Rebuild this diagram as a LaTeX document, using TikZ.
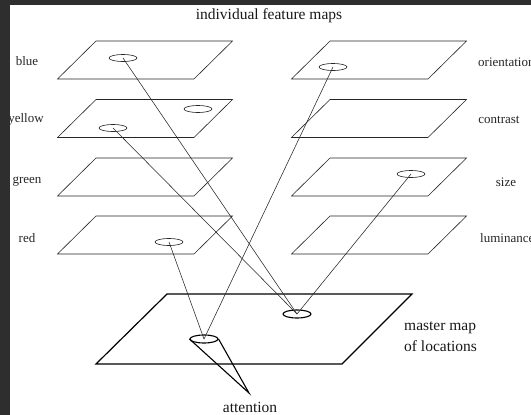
\documentclass[tikz,border=0pt]{standalone}
\usepackage{fontspec}
\setmainfont{Liberation Serif}
\usetikzlibrary{shapes.geometric}
\definecolor{strip}{HTML}{2E2E2E}
\tikzset{
  plane/.style={draw=black!85, line width=0.6pt},
  master/.style={draw=black, line width=1.2pt},
  spot/.style={ellipse, draw=black!85, line width=0.6pt, minimum width=28pt, minimum height=7pt, inner sep=0pt},
  mspot/.style={ellipse, draw=black, line width=1.1pt, minimum width=28pt, minimum height=8pt, inner sep=0pt},
  link/.style={draw=black!85, line width=0.55pt},
  cone/.style={draw=black, line width=1.1pt},
  side/.style={font=\fontsize{13}{15}\selectfont, text=black!85, inner sep=0pt},
  big/.style={font=\fontsize{15.5}{18}\selectfont, text=black!90, inner sep=0pt},
}
\newcommand\fmplane[2]{\draw[plane] (#1,#2) -- ++(136.5,0) -- ++(-38.5,38) -- ++(-136.5,0) -- cycle;}
\begin{document}
\begin{tikzpicture}[x=1pt,y=-1pt]
\useasboundingbox (0,0) rectangle (531,415);
\fill[white] (0,0) rectangle (531,415);
% feature planes
\foreach \t in {41,99.5,158,216}{
  \fmplane{96}{\t}
  \fmplane{330}{\t}
}
% master map
\draw[master] (167,294) -- (412,294) -- (342,364) -- (96,364) -- cycle;
% spots
\node[spot] (eb) at (123,58) {};
\node[spot] (eyr) at (198,109) {};
\node[spot] (eyl) at (113,128) {};
\node[spot] (er) at (169,242) {};
\node[spot] (eo) at (333,67) {};
\node[spot] (es) at (411,174) {};
\node[mspot] (ml) at (204,339) {};
\node[mspot] (mr) at (297,314) {};
% links
\draw[link] (eb.center) -- (mr.center);
\draw[link] (eyl.center) -- (mr.center);
\draw[link] (es.center) -- (mr.center);
\draw[link] (er.center) -- (ml.center);
\draw[link] (eo.center) -- (ml.center);
% cone
\coordinate (apex) at (249,393);
\draw[cone] (ml.west) -- (apex) -- (ml.east);
% labels
\node[big] (title) at (269,16) {individual feature maps};
\node[side] (lblue) at (27,61) {blue};
\node[side] (lyellow) at (26,119) {yellow};
\node[side] (lgreen) at (27,182) {green};
\node[side] (lred) at (27,238) {red};
\node[side, anchor=west] (lori) at (478,62) {orientation};
\node[side] (lcon) at (499,120) {contrast};
\node[side] (lsize) at (506,182) {size};
\node[side, anchor=west] (llum) at (480,238) {luminance};
\node[big, anchor=west] (lm1) at (404,328) {master map};
\node[big, anchor=west] (lm2) at (404,346) {of locations};
\node[big] (latt) at (250,407) {attention};
% dark strips
\fill[strip] (0,0) rectangle (10,415);
\fill[strip] (0,0) rectangle (531,4.5);
\end{tikzpicture}
\end{document}
